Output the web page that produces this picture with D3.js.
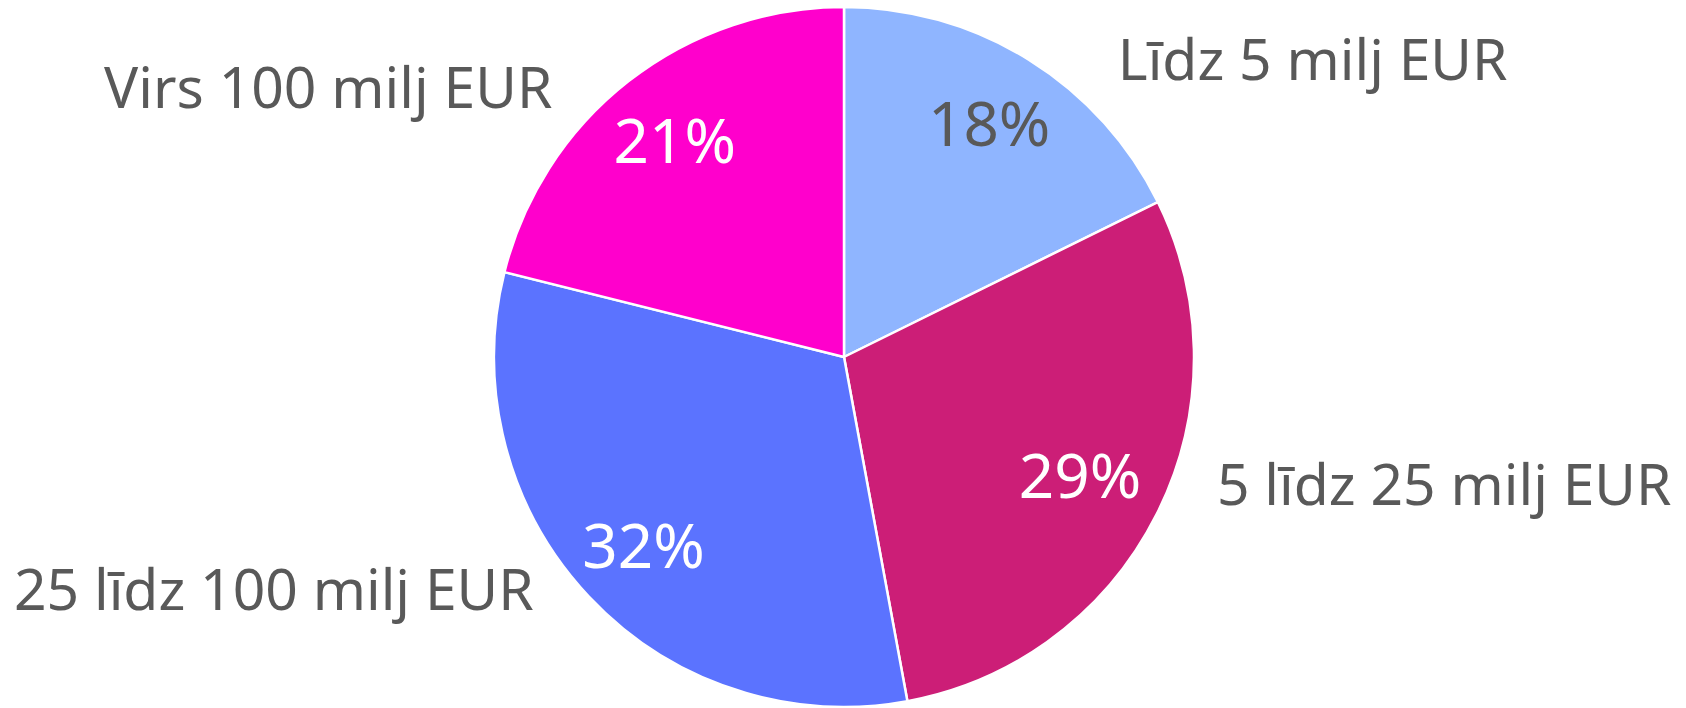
<!DOCTYPE html>
<html>
<head>
<meta charset="utf-8">
<script src="https://cdn.jsdelivr.net/npm/d3@7"></script>
<style>
  html, body { margin: 0; padding: 0; background: #fff; }
  svg text { font-family: "Noto Sans", sans-serif; }
</style>
</head>
<body>
<div id="chart"></div>
<script>
// Dati (daļas, %)
const categories = ['Līdz 5 milj EUR', '5 līdz 25 milj EUR', '25 līdz 100 milj EUR', 'Virs 100 milj EUR'];
const shares = [17.7, 29.4, 31.8, 21.1];
const percentLabels = ['18%', '29%', '32%', '21%'];
const colors = ['#8fb5ff', '#cc1e77', '#5b73ff', '#ff00cc'];

const W = 1686, H = 708;
const cx = 844, cy = 357, R = 350;

const data = categories.map((c, i) => ({ name: c, value: shares[i], pct: percentLabels[i], color: colors[i] }));

const svg = d3.select('#chart').append('svg')
    .attr('width', W).attr('height', H);

const g = svg.append('g').attr('transform', `translate(${cx},${cy})`);

const pie = d3.pie().sort(null).value(d => d.value);
const arcs = pie(data);

const arc = d3.arc().innerRadius(0).outerRadius(R);
const midAngle = d => (d.startAngle + d.endAngle) / 2;

// Sektori
g.selectAll('path')
    .data(arcs)
    .join('path')
    .attr('d', arc)
    .attr('fill', d => d.data.color)
    .attr('stroke', '#fff')
    .attr('stroke-width', 2.5)
    .attr('stroke-linejoin', 'round');

// Procenti sektoru iekšpusē
const pctR = [275, 264, 275, 275];
g.selectAll('.pct')
    .data(arcs)
    .join('text')
    .attr('class', 'pct')
    .attr('transform', (d, i) => {
        const a = midAngle(d);
        return `translate(${pctR[i] * Math.sin(a)},${-pctR[i] * Math.cos(a)})`;
    })
    .attr('text-anchor', 'middle')
    .attr('dy', '0.36em')
    .attr('font-size', '62px')
    .attr('fill', (d, i) => i === 0 ? '#595959' : '#fff')
    .text(d => d.data.pct);

// Kategoriju nosaukumi ārpusē (leņķa nobīde grādos)
const labelShift = [10.8, -7.8, 6.3, -9.3];
const labelR = [404, 394, 388, 397];
g.selectAll('.cat')
    .data(arcs)
    .join('text')
    .attr('class', 'cat')
    .attr('transform', (d, i) => {
        const a = midAngle(d) + labelShift[i] * Math.PI / 180;
        return `translate(${labelR[i] * Math.sin(a)},${-labelR[i] * Math.cos(a)})`;
    })
    .attr('text-anchor', d => (midAngle(d) < Math.PI ? 'start' : 'end'))
    .attr('dy', '0.36em')
    .attr('font-size', '57px')
    .attr('fill', '#595959')
    .text(d => d.data.name);
</script>
</body>
</html>
